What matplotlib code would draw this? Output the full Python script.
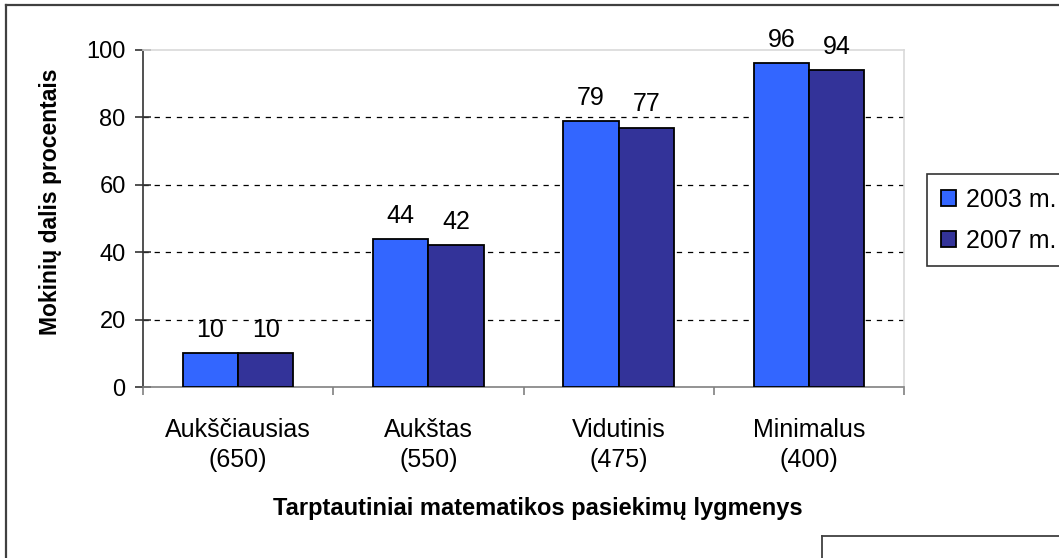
import numpy as np
from matplotlib import pyplot as plt
from matplotlib.patches import Rectangle
from matplotlib.lines import Line2D

plt.rcParams['font.family'] = ['Liberation Sans', 'DejaVu Sans']
plt.rcParams['lines.scale_dashes'] = False

categories = ["Aukščiausias\n(650)", "Aukštas\n(550)", "Vidutinis\n(475)", "Minimalus\n(400)"]
series_names = ["2003 m.", "2007 m."]
values_2003 = [10, 44, 79, 96]
values_2007 = [10, 42, 77, 94]
yticks = [0, 20, 40, 60, 80, 100]

W, H = 1059, 558
fig = plt.figure(figsize=(W / 100, H / 100), dpi=100)
ax = fig.add_axes([143 / W, 1 - 387 / H, 761 / W, 337 / H])

x = np.arange(len(categories))
bw = 0.29
b1 = ax.bar(x - bw / 2, values_2003, bw, color="#3366FF", edgecolor="black", linewidth=1.3, zorder=3)
b2 = ax.bar(x + bw / 2, values_2007, bw, color="#333399", edgecolor="black", linewidth=1.3, zorder=3)

for bars, vals in [(b1, values_2003), (b2, values_2007)]:
    for b, v in zip(bars, vals):
        ax.annotate(str(v), (b.get_x() + b.get_width() / 2, v), xytext=(0, 8),
                    textcoords="offset points", ha="center", va="bottom", fontsize=18)

ax.set_xlim(-0.5, len(categories) - 0.5)
ax.set_ylim(0, 100)
ax.set_yticks(yticks)
for yv in yticks[1:-1]:
    ax.axhline(yv, color="black", linestyle=(0, (3.8, 4.2)), linewidth=0.9, zorder=1)

ax.set_xticks(x)
ax.set_xticklabels(categories, fontsize=18, linespacing=1.32)
ax.set_xticks(np.arange(len(categories) + 1) - 0.5, minor=True)
ax.tick_params(axis="x", which="major", length=0, pad=22)
ax.tick_params(axis="x", which="minor", length=6, color="#808080", width=1.2)
ax.tick_params(axis="y", direction="inout", length=11, color="#333333", width=1.2, labelsize=17, pad=7)

ax.spines["top"].set_color("#D9D9D9")
ax.spines["right"].set_color("#D9D9D9")
ax.spines["left"].set_color("#333333")
ax.spines["bottom"].set_color("#808080")
for s in ax.spines.values():
    s.set_linewidth(1.2)

ax.set_ylabel("Mokinių dalis procentais", fontsize=16.5, fontweight="bold")
ax.yaxis.set_label_coords(-0.106, 0.549)
ax.set_xlabel("Tarptautiniai matematikos pasiekimų lygmenys", fontsize=17, fontweight="bold")
ax.xaxis.set_label_coords(0.519, -0.325)

handles = [Rectangle((0, 0), 1, 1, facecolor="#3366FF", edgecolor="black", linewidth=1.3),
           Rectangle((0, 0), 1, 1, facecolor="#333399", edgecolor="black", linewidth=1.3)]
leg = fig.legend(handles, series_names, loc="upper left", bbox_to_anchor=(927 / W, 1 - 174 / H),
                 fontsize=18, frameon=True, fancybox=False, handlelength=0.6, handleheight=0.6,
                 handletextpad=0.4, borderpad=0.55, labelspacing=0.68, borderaxespad=0)
leg.get_frame().set_edgecolor("black")
leg.get_frame().set_linewidth(1.2)

# outer chart frame (top and left visible) and bottom-right box
fig.add_artist(Line2D([6 / W, 6 / W], [0, 1 - 5 / H], transform=fig.transFigure, color="#404040", linewidth=1.6))
fig.add_artist(Line2D([6 / W, 1], [1 - 5 / H, 1 - 5 / H], transform=fig.transFigure, color="#404040", linewidth=1.6))
fig.add_artist(Line2D([822 / W, 822 / W], [0, 1 - 536 / H], transform=fig.transFigure, color="#404040", linewidth=1.3))
fig.add_artist(Line2D([822 / W, 1], [1 - 536 / H, 1 - 536 / H], transform=fig.transFigure, color="#404040", linewidth=1.3))

fig.savefig("out.png", dpi=100)
